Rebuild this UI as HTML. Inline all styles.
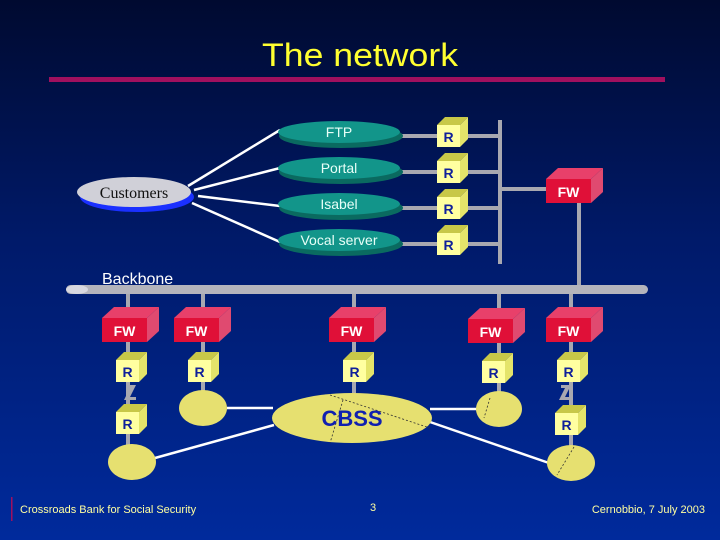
<!DOCTYPE html>
<html><head><meta charset="utf-8"><style>
html,body{margin:0;padding:0;width:720px;height:540px;overflow:hidden}
svg{display:block}
text{font-family:"Liberation Sans",sans-serif}
</style></head><body>
<svg width="720" height="540" viewBox="0 0 720 540" xmlns="http://www.w3.org/2000/svg">
<defs>
<linearGradient id="bg" x1="0" y1="0" x2="0" y2="1">
<stop offset="0" stop-color="#000a30"/>
<stop offset="0.45" stop-color="#001a6a"/>
<stop offset="1" stop-color="#002a9c"/>
</linearGradient>
<g id="R">
<polygon points="0,8 8,0 31,0 23,8" fill="#c8c848"/>
<polygon points="23,8 31,0 31,22 23,30" fill="#e4e46a"/>
<rect x="0" y="8" width="23" height="22" fill="#ffffa0"/>
<text x="11.5" y="25" font-size="14" font-weight="bold" fill="#10209a" text-anchor="middle">R</text>
</g>
<g id="FW">
<polygon points="0,11 12,0 57,0 45,11" fill="#e8406a"/>
<polygon points="45,11 57,0 57,24 45,35" fill="#e04a70"/>
<rect x="0" y="11" width="45" height="24" fill="#e01038"/>
<text x="22.5" y="29" font-size="14" font-weight="bold" fill="#fff" text-anchor="middle">FW</text>
</g>
</defs>
<rect width="720" height="540" fill="url(#bg)"/>
<text x="360" y="66" font-size="32" fill="#ffff30" text-anchor="middle" textLength="196" lengthAdjust="spacingAndGlyphs">The network</text>
<rect x="49" y="77" width="616" height="5" fill="#a0105e"/>

<g stroke="#fff" stroke-width="2.5">
<line x1="188" y1="186" x2="280" y2="130"/>
<line x1="194" y1="190" x2="280" y2="168"/>
<line x1="198" y1="196" x2="280" y2="206"/>
<line x1="192" y1="203" x2="280" y2="242"/>
</g>
<g stroke="#a8a8b0" stroke-width="4">
<line x1="400" y1="136" x2="500" y2="136"/>
<line x1="400" y1="172" x2="500" y2="172"/>
<line x1="400" y1="208" x2="500" y2="208"/>
<line x1="400" y1="244" x2="500" y2="244"/>
<line x1="500" y1="120" x2="500" y2="264"/>
<line x1="500" y1="189" x2="550" y2="189"/>
<line x1="579" y1="200" x2="579" y2="286"/>
</g>
<ellipse cx="137" cy="197" rx="57" ry="15" fill="#1a30ff"/>
<ellipse cx="134" cy="192" rx="57" ry="15" fill="#d0d0d8"/>
<text x="134" y="198" font-size="16" fill="#111" text-anchor="middle" style="font-family:'Liberation Serif',serif">Customers</text>
<g>
<ellipse cx="341" cy="136" rx="62" ry="12" fill="#0a6a60"/>
<ellipse cx="339" cy="132" rx="61" ry="11" fill="#12958a"/>
<text x="339" y="137" font-size="14" fill="#e8fff8" text-anchor="middle">FTP</text>
<ellipse cx="341" cy="172" rx="62" ry="12" fill="#0a6a60"/>
<ellipse cx="339" cy="168" rx="61" ry="11" fill="#12958a"/>
<text x="339" y="173" font-size="14" fill="#e8fff8" text-anchor="middle">Portal</text>
<ellipse cx="341" cy="208" rx="62" ry="12" fill="#0a6a60"/>
<ellipse cx="339" cy="204" rx="61" ry="11" fill="#12958a"/>
<text x="339" y="209" font-size="14" fill="#e8fff8" text-anchor="middle">Isabel</text>
<ellipse cx="341" cy="244" rx="62" ry="12" fill="#0a6a60"/>
<ellipse cx="339" cy="240" rx="61" ry="11" fill="#12958a"/>
<text x="339" y="245" font-size="14" fill="#e8fff8" text-anchor="middle">Vocal server</text>
</g>
<use href="#R" x="437" y="117"/>
<use href="#R" x="437" y="153"/>
<use href="#R" x="437" y="189"/>
<use href="#R" x="437" y="225"/>
<use href="#FW" x="546" y="168"/>

<text x="102" y="284" font-size="16" fill="#fff">Backbone</text>
<rect x="66" y="285" width="582" height="9" rx="4.5" fill="#b4b4bc"/>
<ellipse cx="77" cy="289.5" rx="11" ry="4.5" fill="#d8d8e0"/>

<g stroke="#a8a8b0" stroke-width="4">
<line x1="128" y1="294" x2="128" y2="445"/>
<line x1="203" y1="294" x2="203" y2="392"/>
<line x1="354" y1="294" x2="354" y2="395"/>
<line x1="499" y1="294" x2="499" y2="392"/>
<line x1="571" y1="294" x2="571" y2="447"/>
</g>
<g fill="#a8a8b0">
<polygon points="126,385 136,385 130,397 136,397 136,400 124,400 130,388 126,388"/>
<polygon points="561,385 571,385 565,397 571,397 571,400 559,400 565,388 561,388"/>
</g>

<g stroke="#fff" stroke-width="2.5">
<line x1="227" y1="408" x2="273" y2="408"/>
<line x1="430" y1="409" x2="477" y2="409"/>
<line x1="155" y1="458" x2="274" y2="425"/>
<line x1="430" y1="422" x2="549" y2="463"/>
</g>
<g fill="#e6e070">
<ellipse cx="132" cy="462" rx="24" ry="18"/>
<ellipse cx="203" cy="408" rx="24" ry="18"/>
<ellipse cx="352" cy="418" rx="80" ry="25"/>
<ellipse cx="499" cy="409" rx="23" ry="18"/>
<ellipse cx="571" cy="463" rx="24" ry="18"/>
</g>
<g stroke="#333" stroke-width="0.8" stroke-dasharray="2,2" fill="none">
<path d="M330 395 L430 428"/>
<path d="M343 400 L330 443"/>
<path d="M490 398 L484 418"/>
<path d="M574 447 L557 475"/>
</g>
<text x="352" y="426" font-size="22" font-weight="bold" fill="#1020b0" text-anchor="middle">CBSS</text>

<use href="#FW" x="102" y="307"/>
<use href="#FW" x="174" y="307"/>
<use href="#FW" x="329" y="307"/>
<use href="#FW" x="468" y="308"/>
<use href="#FW" x="546" y="307"/>
<use href="#R" x="116" y="352"/>
<use href="#R" x="188" y="352"/>
<use href="#R" x="343" y="352"/>
<use href="#R" x="482" y="353"/>
<use href="#R" x="557" y="352"/>
<use href="#R" x="116" y="404"/>
<use href="#R" x="555" y="405"/>

<rect x="11" y="497" width="1.5" height="24" fill="#a0105e"/>
<text x="20" y="513" font-size="11" fill="#ffffa0">Crossroads Bank for Social Security</text>
<text x="373" y="511" font-size="11" fill="#ffffa0" text-anchor="middle">3</text>
<text x="705" y="513" font-size="11" fill="#ffffa0" text-anchor="end">Cernobbio, 7 July 2003</text>
</svg>
</body></html>
